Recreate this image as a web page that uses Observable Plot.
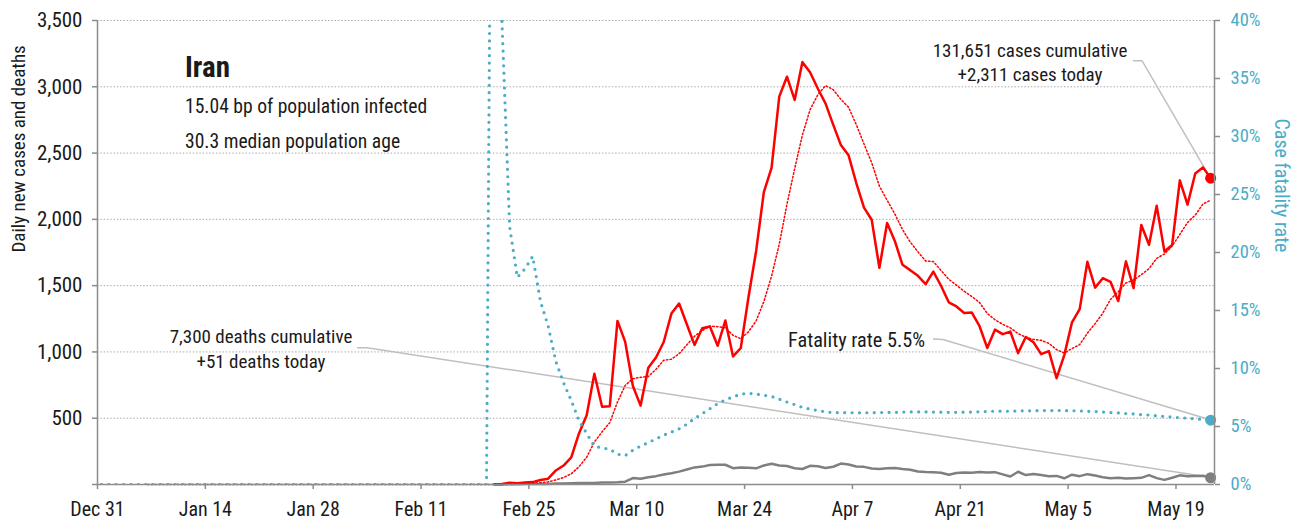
<!DOCTYPE html>
<html>
<head>
<meta charset="utf-8">
<script src="https://cdn.jsdelivr.net/npm/d3@7"></script>
<script src="https://cdn.jsdelivr.net/npm/@observablehq/plot@0.6"></script>
<style>
  html, body { margin: 0; padding: 0; background: #fff; }
  #chart svg { display: block; }
</style>
</head>
<body>
<div id="chart"></div>
<script>
// ---- Data: Iran, daily reports --------------------------------------------
const country = "Iran";
const subtitleLines = ["15.04 bp of population infected", "30.3 median population age"];
const seriesStart = "2019-12-31";   // first day of the series (no cases yet)
const firstReport = "2020-02-20";   // first day with reported cases
const axisEnd = "2020-05-24";

// Daily new cases from the first report onwards
const dailyCases = [
  2, 3, 13, 10, 15, 18, 34, 44, 106, 143, 205,
  385, 523, 835, 586, 591, 1234, 1076, 743, 595, 881, 958, 1075, 1289, 1365, 1209,
  1053, 1178, 1192, 1046, 1237, 966, 1028, 1411, 1762, 2206, 2389, 2926, 3076, 2901, 3186, 3110,
  2987, 2875, 2715, 2560, 2483, 2274, 2089, 1997, 1634, 1972, 1837, 1657, 1617, 1574, 1512,
  1606, 1499, 1374, 1343, 1294, 1297, 1194, 1030, 1168, 1134, 1153, 991, 1112, 1073, 983,
  1006, 802, 976, 1223, 1323, 1680, 1485, 1556, 1529, 1383, 1683, 1481, 1958, 1808, 2102,
  1757, 1806, 2294, 2111, 2346, 2392, 2311
];

// Daily new deaths, same days
const dailyDeaths = [
  2, 0, 2, 1, 3, 4, 3, 4, 7, 8, 9,
  11, 12, 11, 15, 15, 17, 21, 49, 43, 54, 63, 75, 85, 97, 113,
  129, 135, 147, 149, 149, 123, 129, 127, 122, 143, 157, 144, 139, 123, 117, 141,
  138, 124, 134, 158, 151, 136, 133, 121, 117, 122, 125, 117, 111, 98, 94,
  92, 89, 73, 87, 91, 88, 94, 90, 93, 76, 60, 96, 71, 80, 71,
  63, 65, 47, 74, 63, 78, 68, 55, 48, 51, 45, 48, 50, 71, 48,
  35, 51, 69, 62, 64, 66, 51
];

// Axis ticks
const xTickDates = ["2019-12-31", "2020-01-14", "2020-01-28", "2020-02-11", "2020-02-25",
  "2020-03-10", "2020-03-24", "2020-04-07", "2020-04-21", "2020-05-05", "2020-05-19"];
const countTicks = [0, 500, 1000, 1500, 2000, 2500, 3000, 3500];
const rateTicks = [0, 0.05, 0.10, 0.15, 0.20, 0.25, 0.30, 0.35, 0.40];

// ---- Derived table -------------------------------------------------------
const parse = d3.utcParse("%Y-%m-%d");
const start = parse(seriesStart);
const first = parse(firstReport);
const end = parse(axisEnd);
const quietDays = d3.utcDay.count(start, first);          // days before any case
const casesAll = d3.range(quietDays).map(() => 0).concat(dailyCases);
const deathsAll = d3.range(quietDays).map(() => 0).concat(dailyDeaths);
const cumCases = Array.from(d3.cumsum(casesAll));
const cumDeaths = Array.from(d3.cumsum(deathsAll));

const rows = casesAll.map((c, i) => ({
  date: d3.utcDay.offset(start, i),
  cases: c,
  deaths: deathsAll[i],
  cumCases: cumCases[i],
  cumDeaths: cumDeaths[i],
  cfr: cumCases[i] > 0 ? cumDeaths[i] / cumCases[i] : 0,
  reported: i >= quietDays
}));
const reported = rows.filter(d => d.reported);
const last = rows[rows.length - 1];

// Case fatality rate shares the count axis: 40% sits at the top (3,500)
const countMax = 3500, rateMax = 0.40;
const rateToCount = r => r * countMax / rateMax;

// Each day is drawn in the middle of its slot
const mid = d => d3.utcHour.offset(d.date, 12);

// ---- Styling -------------------------------------------------------------
const RED = "#ff0000", GREY = "#7f7f7f", TEAL = "#4bacc6";
const AXIS = "#8c8c8c", INK = "#1a1a1a", LEADER = "#bfbfbf";
const FONT = '"Roboto Condensed", "Liberation Sans Narrow", "DejaVu Sans Condensed", sans-serif';

const fmt = d3.format(",");
const pct = d3.format(".1%");

// Title block and call-outs with leader lines to the latest values
function callouts(index, {x, y}) {
  const g = d3.create("svg:g")
    .attr("font-family", FONT)
    .attr("text-anchor", "start")
    .attr("fill", INK);

  g.append("text").attr("x", 185).attr("y", 77)
    .attr("font-size", 29).attr("font-weight", "bold").text(country);
  g.append("text").attr("x", 185).attr("y", 113)
    .attr("font-size", 19.6).text(subtitleLines[0]);
  g.append("text").attr("x", 185).attr("y", 148)
    .attr("font-size", 19.6).text(subtitleLines[1]);

  const lx = x(mid(last));
  const leader = (pts) => g.append("path")
    .attr("d", d3.line()(pts))
    .attr("fill", "none").attr("stroke", LEADER).attr("stroke-width", 1.5);

  // cases
  const cg = g.append("text").attr("font-size", 19).attr("text-anchor", "middle");
  cg.append("tspan").attr("x", 1030).attr("y", 57).text(`${fmt(last.cumCases)} cases cumulative`);
  cg.append("tspan").attr("x", 1030).attr("y", 81).text(`+${fmt(last.cases)} cases today`);
  leader([[1133, 60.7], [1142, 60.7], [lx, y(last.cases)]]);

  // deaths
  const dg = g.append("text").attr("font-size", 19).attr("text-anchor", "middle");
  dg.append("tspan").attr("x", 261).attr("y", 343).text(`${fmt(last.cumDeaths)} deaths cumulative`);
  dg.append("tspan").attr("x", 261).attr("y", 368).text(`+${fmt(last.deaths)} deaths today`);
  leader([[357, 347.7], [367, 347.7], [lx, y(last.deaths)]]);

  // fatality rate
  g.append("text").attr("x", 788).attr("y", 347).attr("font-size", 20.3)
    .text(`Fatality rate ${pct(last.cfr)}`);
  leader([[933, 339], [943, 339.5], [lx, y(rateToCount(last.cfr))]]);

  return g.node();
}

const chart = Plot.plot({
  width: 1301,
  height: 524,
  marginLeft: 97,
  marginRight: 87,
  marginTop: 20,
  marginBottom: 40,
  style: {fontFamily: FONT, fontSize: "20px", color: INK, background: "#fff"},
  x: {type: "utc", domain: [start, end]},
  y: {domain: [0, countMax]},
  marks: [
    Plot.gridY(countTicks.filter(v => v > 0), {
      stroke: "#ababab", strokeOpacity: 1, strokeWidth: 1, strokeDasharray: "1.5,1.8"
    }),
    callouts,
    // daily deaths
    Plot.lineY(reported, {x: mid, y: "deaths", stroke: GREY, strokeWidth: 2.5}),
    // 7-day trailing average of cases
    Plot.lineY(rows, Plot.windowY({k: 7, anchor: "end", strict: true}, {
      x: mid, y: "cases", stroke: RED, strokeWidth: 1.5, strokeDasharray: "1.5,2.2"
    })),
    // daily cases
    Plot.lineY(reported, {x: mid, y: "cases", stroke: RED, strokeWidth: 2.5}),
    // cumulative case fatality rate (right axis)
    Plot.lineY(rows, {
      x: mid, y: d => rateToCount(d.cfr), stroke: TEAL, strokeWidth: 3.2,
      strokeDasharray: "0,7.4", strokeLinecap: "round", clip: true
    }),
    // latest values
    Plot.dot([last], {x: mid, y: "deaths", r: 5.5, fill: GREY}),
    Plot.dot([last], {x: mid, y: d => rateToCount(d.cfr), r: 5.5, fill: TEAL}),
    Plot.dot([last], {x: mid, y: "cases", r: 5.5, fill: RED}),
    // axes
    Plot.ruleX([start, end], {stroke: AXIS, strokeWidth: 1.5}),
    Plot.ruleY([0], {stroke: AXIS, strokeWidth: 1.5}),
    Plot.axisX(xTickDates.map(parse), {
      tickSize: 5, tickPadding: 12, stroke: AXIS, strokeWidth: 1.5, fill: INK,
      fontSize: 20, tickFormat: d3.utcFormat("%b %-d"), label: null
    }),
    Plot.axisY(countTicks, {
      anchor: "left", tickSize: 5, tickPadding: 10, stroke: AXIS, strokeWidth: 1.5,
      fill: INK, fontSize: 21, tickFormat: v => v === 0 ? "" : fmt(v), label: null
    }),
    Plot.axisY(rateTicks.map(rateToCount), {
      anchor: "right", tickSize: 5, tickPadding: 11, stroke: AXIS, strokeWidth: 1.5,
      fill: TEAL, fontSize: 18.5, label: null,
      tickFormat: v => `${Math.round(v / countMax * rateMax * 100)}%`
    }),
    Plot.text(["Daily new cases and deaths"], {
      frameAnchor: "left", rotate: -90, dx: -79, fill: INK, fontSize: 19
    }),
    Plot.text(["Case fatality rate"], {
      frameAnchor: "right", rotate: 90, dx: 67, fill: TEAL, fontSize: 20
    })
  ]
});

document.getElementById("chart").appendChild(chart);
</script>
</body>
</html>
